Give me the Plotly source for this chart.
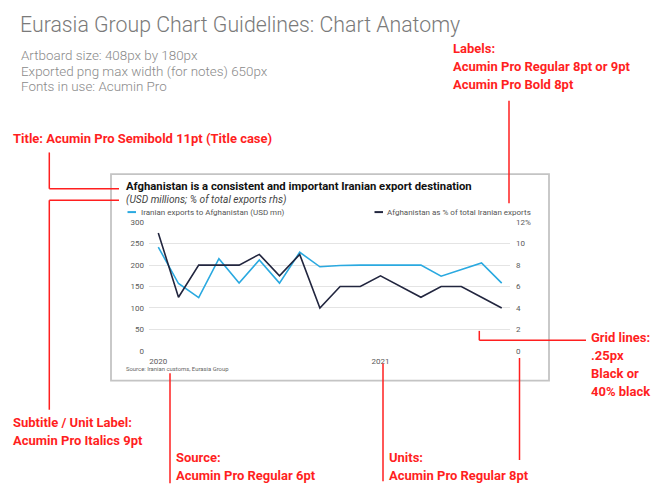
import plotly.graph_objects as go

# ---------------- data ----------------
months = ["Jan 2020", "Feb 2020", "Mar 2020", "Apr 2020", "May 2020", "Jun 2020",
          "Jul 2020", "Aug 2020", "Sep 2020", "Oct 2020", "Nov 2020", "Dec 2020",
          "Jan 2021", "Feb 2021", "Mar 2021", "Apr 2021", "May 2021", "Jun 2021"]
exports_usd_mn = [242, 157, 124, 215, 158, 212, 158, 230, 196, 199, 200, 200,
                  200, 200, 174, 189, 205, 158]
share_pct = [11, 5, 8, 8, 8, 9, 7, 9, 4, 6, 6, 7, 6, 5, 6, 6, 5, 4]

series_names = ["Iranian exports to Afghanistan (USD mn)",
                "Afghanistan as % of total Iranian exports"]
x_tick_positions = ["Jan 2020", "Dec 2020"]
x_tick_labels = ["2020", "2021"]
left_tick_values = [0, 50, 100, 150, 200, 250, 300]
right_tick_values = [0, 2, 4, 6, 8, 10, 12]
right_tick_labels = ["0", "2", "4", "6", "8", "10", "12%"]

chart_title = "Afghanistan is a consistent and important Iranian export destination"
chart_subtitle = "(USD millions; % of total exports rhs)"
chart_source = "Source: Iranian customs, Eurasia Group"

page_title = "Eurasia Group Chart Guidelines: Chart Anatomy"
page_notes = ["Artboard size: 408px by 180px",
              "Exported png max width (for notes) 650px",
              "Fonts in use: Acumin Pro"]

# ---------------- styling ----------------
W, H = 652, 492          # page body has an 8px margin
OFF = 8
BLUE = "#2aa9e0"
NAVY = "#22263f"
RED = "#ff1f1f"
GRID = "#e4e4e4"
FONT = "Roboto"


def X(px):
    return (px - OFF) / W


def Y(py):
    return 1 - (py - OFF) / H


fig = go.Figure()
fig.add_trace(go.Scatter(x=months, y=exports_usd_mn, name=series_names[0],
                         mode="lines", line=dict(color=BLUE, width=1.6),
                         yaxis="y"))
fig.add_trace(go.Scatter(x=months, y=share_pct, name=series_names[1],
                         mode="lines", line=dict(color=NAVY, width=1.6),
                         yaxis="y2"))

annotations = []
shapes = []


def text(px, py, s, size, color, weight=400, italic=False, family=FONT):
    annotations.append(dict(
        x=X(px), y=Y(py), xref="paper", yref="paper", text=s, showarrow=False,
        xanchor="left", yanchor="middle", align="left",
        borderpad=0, borderwidth=0,
        font=dict(family=family, size=size, color=color, weight=weight,
                  style="italic" if italic else "normal")))


def line(x0, y0, x1, y1, color=RED, width=1.5):
    shapes.append(dict(type="line", xref="paper", yref="paper",
                       x0=X(x0), y0=Y(y0), x1=X(x1), y1=Y(y1),
                       line=dict(color=color, width=width)))


# page header
text(20, 22, page_title, 21.3, "#7a7a7a", weight=300)
for i, s in enumerate(page_notes):
    text(21, 53.5 + i * 15.5, s, 13.4, "#8a8a8a", weight=300)

# chart frame
shapes.append(dict(type="rect", xref="paper", yref="paper",
                   x0=X(111), y0=Y(383), x1=X(549), y1=Y(173.5),
                   line=dict(color="#c4c4c4", width=1.8), layer="below"))

# chart texts
text(125.5, 186.5, "<b>" + chart_title + "</b>", 11.3, "#111111", weight=600)
text(125.5, 199.5, chart_subtitle, 10.2, "#444444", italic=True)
text(125.5, 371.2, chart_source, 5.9, "#666666")

# legend (short swatches + labels)
line(127.5, 212, 136, 212, color=BLUE, width=2)
text(141, 212, series_names[0], 8.0, "#555555")
line(374.5, 212, 383, 212, color=NAVY, width=2)
text(386.5, 212, series_names[1], 8.0, "#555555")

# red annotations
RS = 13.0
text(452.5, 46, "Labels:", RS, RED, weight=700)
text(452.5, 64.3, "Acumin Pro Regular 8pt or 9pt", RS, RED, weight=700)
text(452.5, 82.6, "Acumin Pro Bold 8pt", RS, RED, weight=700)
line(509, 99, 509, 203)

text(13, 137.5, "Title: Acumin Pro Semibold 11pt (Title case)", RS, RED, weight=700)
line(49.3, 151.5, 49.3, 188.3)
line(49.3, 188.3, 119, 188.3)

line(119, 200, 49.3, 200)
line(49.3, 200, 49.3, 412.5)
text(12.5, 425.7, "Subtitle / Unit Label:", RS, RED, weight=700)
text(12.5, 444, "Acumin Pro Italics 9pt", RS, RED, weight=700)

line(170, 375.5, 170, 487)
text(176, 460.7, "Source:", RS, RED, weight=700)
text(176, 479, "Acumin Pro Regular 6pt", RS, RED, weight=700)

line(383, 365.5, 383, 485)
text(389, 460.7, "Units:", RS, RED, weight=700)
text(389, 479, "Acumin Pro Regular 8pt", RS, RED, weight=700)

line(519.5, 360, 519.5, 463.5)

line(479.3, 332.5, 479.3, 342)
line(479.3, 342, 586, 342)
text(590.5, 339.3, "Grid lines:", RS, RED, weight=700)
text(590.5, 357.6, ".25px", RS, RED, weight=700)
text(590.5, 375.9, "Black or", RS, RED, weight=700)
text(590.5, 394.2, "40% black", RS, RED, weight=700)

tick_font = dict(family=FONT, size=8.0, color="#5a5a5a")

fig.update_layout(
    width=W, height=H, autosize=False,
    margin=dict(l=0, r=0, t=0, b=0),
    paper_bgcolor="white", plot_bgcolor="white",
    showlegend=False,
    annotations=annotations, shapes=shapes,
    xaxis=dict(domain=[X(149), X(510)], type="category",
               categoryorder="array", categoryarray=months,
               range=[-0.46, 17.41],
               tickmode="array", tickvals=x_tick_positions,
               ticktext=x_tick_labels, ticks="", showgrid=False,
               zeroline=False, showline=False, tickfont=tick_font,
               ticklabelstandoff=3),
    yaxis=dict(domain=[Y(353.6), Y(221.4)], range=[-2, 302],
               tickmode="array", tickvals=left_tick_values,
               ticks="", showgrid=True, gridcolor=GRID, gridwidth=1.2,
               zeroline=False, showline=False, tickfont=tick_font,
               ticklabelstandoff=4),
    yaxis2=dict(overlaying="y", side="right", anchor="x",
                range=[-2 / 25, 302 / 25],
                tickmode="array", tickvals=right_tick_values,
                ticktext=right_tick_labels, ticks="", showgrid=False,
                zeroline=False, showline=False, tickfont=tick_font,
                ticklabelstandoff=5),
)

fig.write_html("out.html")
